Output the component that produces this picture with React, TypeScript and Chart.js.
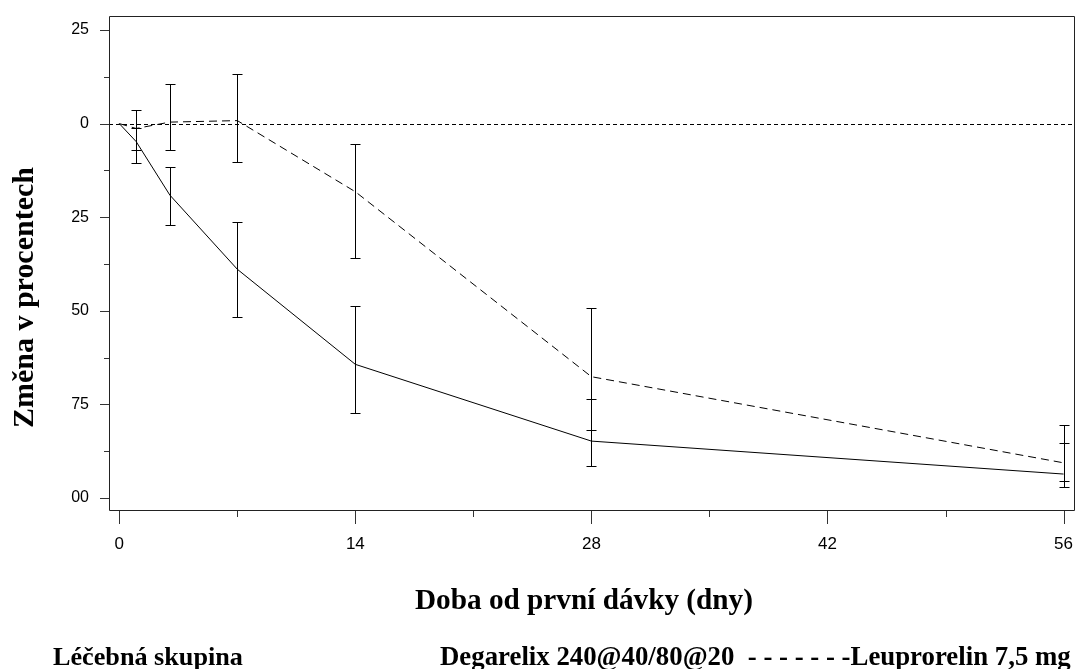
import { useEffect, useRef } from "react";
import { Chart, registerables } from "chart.js";

Chart.register(...registerables);

// Days since first dose
const days = [0, 1, 3, 7, 14, 28, 56];

// Degarelix 240@40/80@20 (solid line)
const degarelixMean = [0, -4.8, -19.1, -38.9, -64.3, -84.8, -93.6];
const degarelixLow = [null, -10.6, -27.2, -51.6, -77.4, -91.5, -97.0];
const degarelixHigh = [null, -1.1, -11.5, -26.4, -48.7, -73.6, -85.4];

// Leuprorelin 7,5 mg (dashed line)
const leuprorelinMean = [0, -1.3, 0.4, 0.8, -18.2, -67.6, -90.6];
const leuprorelinLow = [null, -7.1, -7.1, -10.3, -35.8, -81.8, -95.4];
const leuprorelinHigh = [null, 3.6, 10.6, 13.2, -5.5, -49.3, -80.5];

// Axis ticks
const xMajorTicks = [0, 14, 28, 42, 56];
const xMinorTicks = [7, 21, 35, 49];
const yMajorTicks = [-100, -75, -50, -25, 0, 25];
const yTickLabels = ["00", "75", "50", "25", "0", "25"];
const yMinorTicks = [-87.5, -62.5, -37.5, -12.5, 12.5];

// Texts
const xTitle = "Doba od první dávky (dny)";
const yTitle = "Změna v procentech";
const legendTitle = "Léčebná skupina";
const legendText = "Degarelix 240@40/80@20  - - - - - - -Leuprorelin 7,5 mg";

function setFittedFont(ctx: CanvasRenderingContext2D, text: string, width: number) {
  ctx.font = 'bold 30px "Liberation Serif"';
  const w = ctx.measureText(text).width;
  const size = (30 * width) / w;
  ctx.font = `bold ${size.toFixed(2)}px "Liberation Serif"`;
}

const overlayPlugin = {
  id: "overlay",
  beforeDatasetsDraw(chart: any) {
    const { ctx, chartArea: a, scales } = chart;
    const y = scales.y;
    ctx.save();
    ctx.strokeStyle = "#000";
    ctx.lineWidth = 1;
    ctx.setLineDash([4, 3]);
    const y0 = Math.round(y.getPixelForValue(0)) + 0.5;
    ctx.beginPath();
    ctx.moveTo(a.left, y0);
    ctx.lineTo(a.right, y0);
    ctx.stroke();
    ctx.restore();
  },
  afterDatasetsDraw(chart: any) {
    const { ctx, chartArea: a, scales } = chart;
    const x = scales.x;
    const y = scales.y;
    ctx.save();
    ctx.setLineDash([]);
    ctx.strokeStyle = "#000";
    ctx.lineWidth = 1;

    // error bars
    const bars: [any[], any[]][] = [
      [degarelixLow, degarelixHigh],
      [leuprorelinLow, leuprorelinHigh],
    ];
    for (const [lo, hi] of bars) {
      for (let i = 0; i < days.length; i++) {
        if (lo[i] == null || hi[i] == null) continue;
        const px = Math.round(x.getPixelForValue(days[i])) + 0.5;
        const p1 = Math.round(y.getPixelForValue(hi[i])) + 0.5;
        const p2 = Math.round(y.getPixelForValue(lo[i])) + 0.5;
        ctx.beginPath();
        ctx.moveTo(px, p1);
        ctx.lineTo(px, p2);
        ctx.moveTo(px - 5, p1);
        ctx.lineTo(px + 5, p1);
        ctx.moveTo(px - 5, p2);
        ctx.lineTo(px + 5, p2);
        ctx.stroke();
      }
    }

    // frame
    ctx.strokeStyle = "#222";
    ctx.beginPath();
    ctx.rect(a.left + 0.5, a.top + 0.5, a.right - a.left, a.bottom - a.top);
    ctx.stroke();

    // ticks
    ctx.strokeStyle = "#333";
    ctx.beginPath();
    for (const v of yMajorTicks) {
      const py = Math.round(y.getPixelForValue(v)) + 0.5;
      ctx.moveTo(a.left - 9, py);
      ctx.lineTo(a.left, py);
    }
    for (const v of yMinorTicks) {
      const py = Math.round(y.getPixelForValue(v)) + 0.5;
      ctx.moveTo(a.left - 5, py);
      ctx.lineTo(a.left, py);
    }
    for (const v of xMajorTicks) {
      const px = Math.round(x.getPixelForValue(v)) + 0.5;
      ctx.moveTo(px, a.bottom + 1);
      ctx.lineTo(px, a.bottom + 14);
    }
    for (const v of xMinorTicks) {
      const px = Math.round(x.getPixelForValue(v)) + 0.5;
      ctx.moveTo(px, a.bottom + 1);
      ctx.lineTo(px, a.bottom + 7);
    }
    ctx.stroke();

    // titles and legend
    ctx.fillStyle = "#000";
    ctx.textBaseline = "alphabetic";
    ctx.textAlign = "left";
    setFittedFont(ctx, xTitle, 338);
    ctx.fillText(xTitle, 415, 609);

    ctx.save();
    ctx.translate(33, 428);
    ctx.rotate(-Math.PI / 2);
    setFittedFont(ctx, yTitle, 261);
    ctx.textAlign = "left";
    ctx.fillText(yTitle, 0, 0);
    ctx.restore();

    setFittedFont(ctx, legendTitle, 190);
    ctx.fillText(legendTitle, 53, 665);
    setFittedFont(ctx, legendText, 631);
    ctx.fillText(legendText, 440, 665);

    ctx.restore();
  },
};

export default function App() {
  const canvasRef = useRef<HTMLCanvasElement | null>(null);

  useEffect(() => {
    const canvas = canvasRef.current;
    if (!canvas) return;
    const chart = new Chart(canvas, {
      type: "line",
      data: {
        datasets: [
          {
            label: "Degarelix 240@40/80@20",
            data: days.map((d, i) => ({ x: d, y: degarelixMean[i] })),
            borderColor: "#000",
            borderWidth: 1,
            pointRadius: 0,
            tension: 0,
          },
          {
            label: "Leuprorelin 7,5 mg",
            data: days.map((d, i) => ({ x: d, y: leuprorelinMean[i] })),
            borderColor: "#000",
            borderWidth: 1,
            borderDash: [8, 5],
            pointRadius: 0,
            tension: 0,
          },
        ],
      },
      options: {
        responsive: false,
        animation: false,
        layout: { padding: { left: 0, top: 16, right: 2, bottom: 0 } },
        plugins: {
          legend: { display: false },
          tooltip: { enabled: false },
        },
        scales: {
          x: {
            type: "linear",
            min: -0.61,
            max: 56.62,
            afterBuildTicks: (s: any) => {
              s.ticks = xMajorTicks.map((v) => ({ value: v }));
            },
            afterFit: (s: any) => {
              s.height = 159;
              s.paddingLeft = 0;
              s.paddingRight = 0;
            },
            ticks: {
              autoSkip: false,
              maxRotation: 0,
              padding: 24,
              color: "#000",
              font: { family: "Liberation Sans", size: 17 },
              callback: (v: any) => String(v),
            },
            grid: { display: false, drawTicks: false },
            border: { display: false },
          },
          y: {
            type: "linear",
            min: -103.2,
            max: 28.74,
            afterBuildTicks: (s: any) => {
              s.ticks = yMajorTicks.map((v) => ({ value: v }));
            },
            afterFit: (s: any) => {
              s.width = 109;
              s.paddingTop = 0;
              s.paddingBottom = 0;
            },
            ticks: {
              autoSkip: false,
              padding: 20,
              color: "#000",
              font: { family: "Liberation Sans", size: 16 },
              callback: (v: any) => {
                const i = yMajorTicks.indexOf(Number(v));
                return i >= 0 ? yTickLabels[i] : "";
              },
            },
            grid: { display: false, drawTicks: false },
            border: { display: false },
          },
        },
      },
      plugins: [overlayPlugin],
    } as any);
    return () => chart.destroy();
  }, []);

  return (
    <div style={{ position: "fixed", left: 0, top: 0, width: 1076, height: 669, background: "#fff" }}>
      <canvas ref={canvasRef} width={1076} height={669} style={{ display: "block", width: 1076, height: 669 }} />
    </div>
  );
}
